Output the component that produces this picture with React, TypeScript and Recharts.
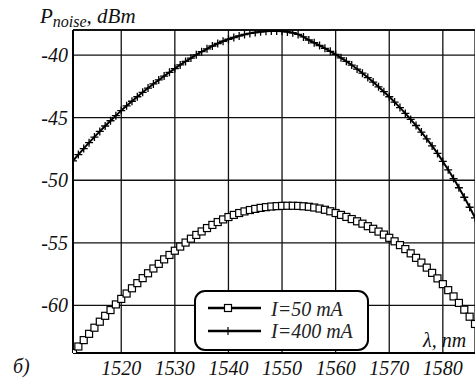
import React from 'react';
import { LineChart, Line, XAxis, YAxis, CartesianGrid, ReferenceLine } from 'recharts';

// wavelength, nm (one point per nm)
const WAVELENGTH = [
  1511, 1512, 1513, 1514, 1515, 1516, 1517, 1518, 1519, 1520,
  1521, 1522, 1523, 1524, 1525, 1526, 1527, 1528, 1529, 1530,
  1531, 1532, 1533, 1534, 1535, 1536, 1537, 1538, 1539, 1540,
  1541, 1542, 1543, 1544, 1545, 1546, 1547, 1548, 1549, 1550,
  1551, 1552, 1553, 1554, 1555, 1556, 1557, 1558, 1559, 1560,
  1561, 1562, 1563, 1564, 1565, 1566, 1567, 1568, 1569, 1570,
  1571, 1572, 1573, 1574, 1575, 1576, 1577, 1578, 1579, 1580,
  1581, 1582, 1583, 1584, 1585, 1586,
];

// P_noise, dBm at I = 400 mA
const NOISE_400 = [
  -48.45, -47.95, -47.47, -47.0, -46.55, -46.1, -45.67, -45.25, -44.84, -44.44,
  -44.06, -43.69, -43.33, -42.98, -42.64, -42.31, -41.99, -41.68, -41.38, -41.08,
  -40.79, -40.51, -40.24, -39.98, -39.73, -39.5, -39.28, -39.08, -38.9, -38.74,
  -38.6, -38.47, -38.36, -38.27, -38.2, -38.14, -38.1, -38.08, -38.08, -38.1,
  -38.15, -38.22, -38.35, -38.55, -38.8, -39.02, -39.24, -39.46, -39.7, -39.95,
  -40.22, -40.5, -40.8, -41.12, -41.45, -41.8, -42.16, -42.54, -42.93, -43.33,
  -43.76, -44.2, -44.66, -45.14, -45.63, -46.15, -46.69, -47.26, -47.86, -48.5,
  -49.17, -49.87, -50.6, -51.36, -52.16, -53.0,
];

// P_noise, dBm at I = 50 mA
const NOISE_50 = [
  -63.8, -63.28, -62.77, -62.27, -61.78, -61.3, -60.83, -60.37, -59.92, -59.48,
  -59.05, -58.63, -58.22, -57.82, -57.43, -57.05, -56.68, -56.32, -55.97, -55.63,
  -55.3, -54.98, -54.67, -54.37, -54.09, -53.82, -53.57, -53.34, -53.13, -52.94,
  -52.77, -52.62, -52.49, -52.38, -52.29, -52.21, -52.15, -52.1, -52.07, -52.05,
  -52.04, -52.04, -52.05, -52.08, -52.12, -52.18, -52.26, -52.36, -52.48, -52.62,
  -52.77, -52.93, -53.1, -53.28, -53.47, -53.67, -53.88, -54.1, -54.34, -54.6,
  -54.88, -55.18, -55.5, -55.84, -56.2, -56.58, -56.98, -57.4, -57.84, -58.3,
  -58.78, -59.28, -59.8, -60.34, -60.9, -61.48,
];

const X_TICKS = [1520, 1530, 1540, 1550, 1560, 1570, 1580];
const Y_TICKS = [-60, -55, -50, -45, -40];
const X_DOMAIN = [1511, 1586];
const Y_DOMAIN = [-63.8, -38];

const LEGEND_50 = 'I=50 mA';
const LEGEND_400 = 'I=400 mA';

const FONT = '"Liberation Serif", "Times New Roman", serif';

const chartData = WAVELENGTH.map((w, i) => ({
  w,
  p400: NOISE_400[i],
  p50: NOISE_50[i],
}));

const SquareDot = (props: any) => {
  const { cx, cy, index } = props;
  if (cx == null || cy == null) return <g key={`sq-${index}`} />;
  return (
    <rect key={`sq-${index}`} x={cx - 3.5} y={cy - 3.5} width={7} height={7}
      fill="#fff" stroke="#000" strokeWidth={1.2} />
  );
};

const PlusDot = (props: any) => {
  const { cx, cy, index } = props;
  if (cx == null || cy == null) return <g key={`pl-${index}`} />;
  return (
    <path key={`pl-${index}`} d={`M${cx - 4},${cy}H${cx + 4}M${cx},${cy - 4}V${cy + 4}`}
      stroke="#000" strokeWidth={1.3} fill="none" />
  );
};

const XTick = (props: any) => {
  const { x, y, payload } = props;
  return (
    <text x={x} y={y + 22} textAnchor="middle" fontFamily={FONT} fontStyle="italic"
      fontSize={20} fill="#111">{payload.value}</text>
  );
};

const YTick = (props: any) => {
  const { x, y, payload } = props;
  return (
    <text x={x} y={y + 7} textAnchor="end" fontFamily={FONT} fontStyle="italic"
      fontSize={20} fill="#111">{payload.value}</text>
  );
};

export default function App() {
  return (
    <div style={{ position: 'absolute', left: 0, top: 0, width: 475, height: 378, background: '#fff', overflow: 'hidden' }}>
      <LineChart width={475} height={378} data={chartData}
        margin={{ top: 30, right: 0, bottom: 0, left: 0 }}>
        <CartesianGrid stroke="#111" strokeWidth={1.3} />
        <XAxis dataKey="w" type="number" domain={X_DOMAIN} ticks={X_TICKS} allowDataOverflow
          height={25} tickLine={false} tickSize={0} tickMargin={0} tick={<XTick />}
          axisLine={{ stroke: '#000', strokeWidth: 2 }} />
        <YAxis type="number" domain={Y_DOMAIN} ticks={Y_TICKS} allowDataOverflow
          width={73} tickLine={false} tickSize={0} tickMargin={5} tick={<YTick />}
          axisLine={{ stroke: '#000', strokeWidth: 2 }} />
        <ReferenceLine y={Y_DOMAIN[1]} stroke="#000" strokeWidth={1.5} />
        <Line type="monotone" dataKey="p400" stroke="#000" strokeWidth={2}
          dot={<PlusDot />} isAnimationActive={false} />
        <Line type="monotone" dataKey="p50" stroke="#000" strokeWidth={2}
          dot={<SquareDot />} isAnimationActive={false} />
      </LineChart>

      <svg width={475} height={378} style={{ position: 'absolute', left: 0, top: 0, pointerEvents: 'none' }}>
        <text x={40} y={23} fontFamily={FONT} fontStyle="italic" fontSize={21} fill="#111">
          P<tspan fontSize={16} dy={4}>noise</tspan><tspan dy={-4}>, dBm</tspan>
        </text>
        <text x={423} y={347} fontFamily={FONT} fontStyle="italic" fontSize={20} fill="#111">λ, nm</text>
        <text x={13} y={373} fontFamily={FONT} fontStyle="italic" fontSize={20} fill="#111">б)</text>

        {/* legend */}
        <rect x={195} y={291} width={173} height={59} rx={10} fill="#fff" stroke="#000" strokeWidth={2} />
        <line x1={208} x2={261} y1={308} y2={308} stroke="#000" strokeWidth={2.5} />
        <rect x={224.5} y={304.5} width={7} height={7} fill="#fff" stroke="#000" strokeWidth={1.2} />
        <text x={271} y={316} fontFamily={FONT} fontStyle="italic" fontSize={20} fill="#222">{LEGEND_50}</text>
        <line x1={208} x2={261} y1={331} y2={331} stroke="#000" strokeWidth={2.5} />
        <path d="M224,331H232M228,327V335" stroke="#000" strokeWidth={1.2} />
        <text x={271} y={338} fontFamily={FONT} fontStyle="italic" fontSize={20} fill="#222">{LEGEND_400}</text>
      </svg>
    </div>
  );
}
